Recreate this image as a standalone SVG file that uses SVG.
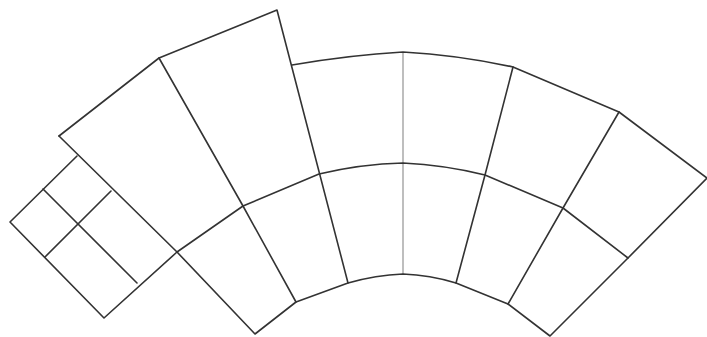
<svg xmlns="http://www.w3.org/2000/svg" width="707" height="337" viewBox="0 0 707 337">
<style>
.l{fill:none;stroke:#333333;stroke-width:1.6;stroke-linejoin:round;stroke-linecap:round}
.g{fill:none;stroke:#a8a8a8;stroke-width:1.5}
</style>
<rect width="707" height="337" fill="#ffffff"/>
<g id="lines">
<path class="g" d="M403 52V274"/>
<path class="l" d="M59 136L159 58L277 10L348 283"/>
<path class="l" d="M159 58L243 206L296 302"/>
<path class="l" d="M59 136L177 252L255 334L296 302L348 283Q376 275 403 274Q430 275 456 283L508 304L550 336L628 258L707 178L619 112L513 67Q458 55 403 52Q350 55 292 65"/>
<path class="l" d="M177 252L243 206L319 174Q361 164 403 163Q445 165 485 175L563 208L628 258"/>
<path class="l" d="M513 67L485 175L456 283"/>
<path class="l" d="M619 112L563 208L508 304"/>
<path class="l" d="M77 156L10 222L104 318L177 252"/>
<path class="l" d="M43 189L137 283"/>
<path class="l" d="M111 191L45 257"/>
</g>
</svg>
